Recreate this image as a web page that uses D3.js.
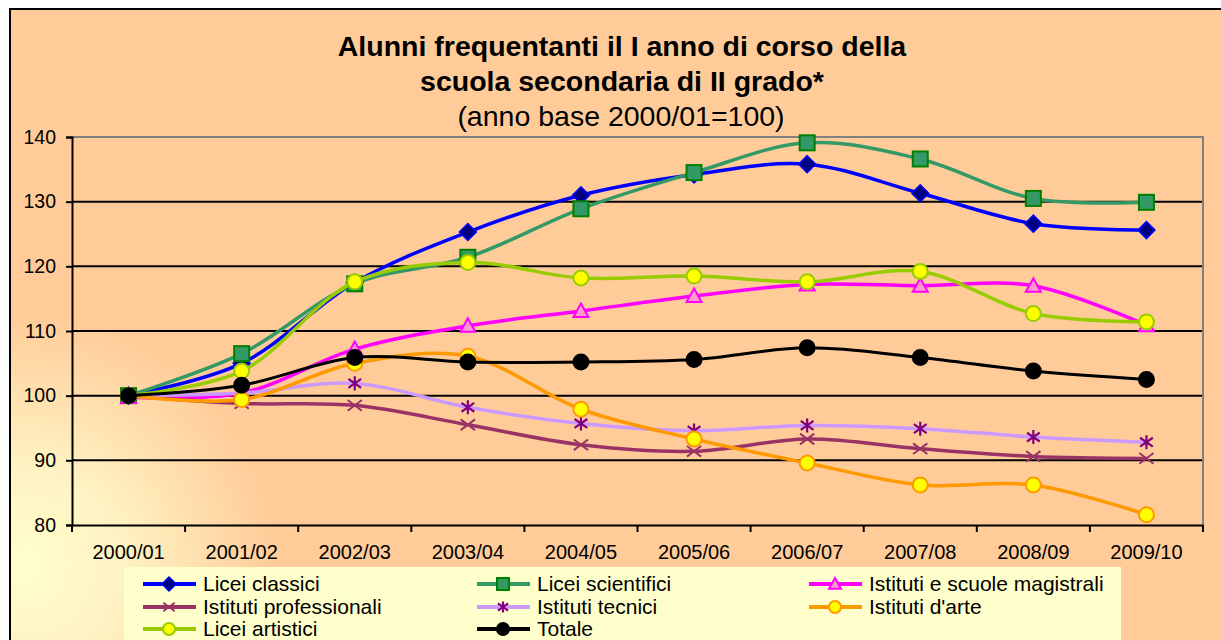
<!DOCTYPE html>
<html>
<head>
<meta charset="utf-8">
<script src="https://cdn.jsdelivr.net/npm/d3@7"></script>
<style>
  body { margin: 0; background: #ffffff; }
  svg { display: block; }
  text { font-family: "Liberation Sans", Arial, sans-serif; fill: #000; }
</style>
</head>
<body>
<svg id="chart" width="1221" height="640"></svg>
<script>
// Dati (anno base 2000/01 = 100)
var anni = ["2000/01", "2001/02", "2002/03", "2003/04", "2004/05", "2005/06", "2006/07", "2007/08", "2008/09", "2009/10"];
var liceiClassici    = [100, 105.0, 117.5, 125.3, 131.0, 134.2, 135.8, 131.3, 126.6, 125.6];
var liceiScientifici = [100, 106.5, 117.3, 121.4, 128.9, 134.5, 139.1, 136.6, 130.5, 129.9];
var magistrali       = [99.8, 100.4, 107.2, 110.8, 113.1, 115.4, 117.2, 117.0, 117.0, 110.9];
var professionali    = [100, 98.8, 98.5, 95.5, 92.4, 91.4, 93.3, 91.8, 90.6, 90.3];
var tecnici          = [100, 100.4, 101.9, 98.2, 95.7, 94.6, 95.4, 94.9, 93.6, 92.8];
var arte             = [100, 99.4, 105.0, 106.1, 97.9, 93.3, 89.6, 86.2, 86.2, 81.6];
var liceiArtistici   = [100, 103.8, 117.6, 120.6, 118.2, 118.5, 117.6, 119.2, 112.7, 111.4];
var totale           = [100, 101.6, 105.9, 105.2, 105.2, 105.6, 107.4, 105.9, 103.8, 102.5];
var yTicks = [80, 90, 100, 110, 120, 130, 140];

var serie = [
  {nome: "Licei classici", valori: liceiClassici, linea: "#0000ff", marker: "diamond", fill: "#000080", stroke: "#0000ff"},
  {nome: "Licei scientifici", valori: liceiScientifici, linea: "#339966", marker: "square", fill: "#339966", stroke: "#008000"},
  {nome: "Istituti e scuole magistrali", valori: magistrali, linea: "#ff00ff", marker: "triangle", fill: "#ff99cc", stroke: "#ff00ff"},
  {nome: "Istituti professionali", valori: professionali, linea: "#993366", marker: "x", fill: "none", stroke: "#993366"},
  {nome: "Istituti tecnici", valori: tecnici, linea: "#cc99ff", marker: "star", fill: "none", stroke: "#800080"},
  {nome: "Istituti d'arte", valori: arte, linea: "#ff9900", marker: "circle", fill: "#ffff00", stroke: "#ff9900"},
  {nome: "Licei artistici", valori: liceiArtistici, linea: "#99cc00", marker: "circle", fill: "#ffff00", stroke: "#99cc00"},
  {nome: "Totale", valori: totale, linea: "#000000", marker: "circle", fill: "#000000", stroke: "#000000"}
];

var svg = d3.select("#chart");
var plot = {left: 72, right: 1203, top: 137, bottom: 525};

// Sfondo con sfumatura in basso a sinistra
var defs = svg.append("defs");
var grad = defs.append("radialGradient").attr("id", "sfondo")
    .attr("gradientUnits", "userSpaceOnUse")
    .attr("cx", 25).attr("cy", 565).attr("r", 250);
grad.append("stop").attr("offset", "0").attr("stop-color", "#ffffcc");
grad.append("stop").attr("offset", "0.4").attr("stop-color", "#fff2c2");
grad.append("stop").attr("offset", "1").attr("stop-color", "#ffcc99");

svg.append("rect").attr("x", 10).attr("y", 9).attr("width", 1240).attr("height", 660)
    .attr("fill", "url(#sfondo)").attr("stroke", "#000").attr("stroke-width", 2);

// Scale
var x = d3.scaleBand().domain(anni).range([plot.left, plot.right]);
var y = d3.scaleLinear().domain([80, 140]).range([plot.bottom, plot.top]);
function cx(i) { return x(anni[i]) + x.bandwidth() / 2; }

// Titolo
var titolo = svg.append("text").attr("text-anchor", "middle").attr("font-size", 28.5);
titolo.append("tspan").attr("x", 622).attr("y", 56).attr("font-weight", "bold").text("Alunni frequentanti il I anno di corso della");
titolo.append("tspan").attr("x", 622).attr("y", 91).attr("font-weight", "bold").text("scuola secondaria di II grado*");
titolo.append("tspan").attr("x", 621).attr("y", 126).text("(anno base 2000/01=100)");

// Griglia
svg.append("g").selectAll("line").data(yTicks.filter(function (d) { return d > 80 && d < 140; }))
  .join("line")
    .attr("x1", plot.left).attr("x2", plot.right)
    .attr("y1", function (d) { return y(d); }).attr("y2", function (d) { return y(d); })
    .attr("stroke", "#000").attr("stroke-width", 2);

// Bordo dell'area del grafico (grigio in alto e a destra)
svg.append("path")
    .attr("d", "M" + plot.left + "," + y(140) + "H" + plot.right + "V" + plot.bottom)
    .attr("fill", "none").attr("stroke", "#808080").attr("stroke-width", 2);

// Assi
var assey = d3.axisLeft(y).tickValues(yTicks).tickSize(6).tickPadding(8);
var gy = svg.append("g").attr("transform", "translate(" + plot.left + ",0)").call(assey);
gy.select(".domain").attr("stroke", "#000").attr("stroke-width", 2);
gy.selectAll(".tick line").attr("stroke", "#000").attr("stroke-width", 2);
gy.selectAll("text").attr("font-size", 19.5).attr("font-family", "Liberation Sans, Arial, sans-serif").attr("fill", "#000").attr("dx", -2);

var assex = d3.axisBottom(x).tickSize(0).tickPadding(20);
var gx = svg.append("g").attr("transform", "translate(0," + plot.bottom + ")").call(assex);
gx.select(".domain").attr("stroke", "#000").attr("stroke-width", 2);
gx.selectAll("text").attr("font-size", 20).attr("font-family", "Liberation Sans, Arial, sans-serif").attr("fill", "#000");
// tacche tra le categorie
gx.selectAll(".sep").data(d3.range(anni.length + 1)).join("line").attr("class", "sep")
    .attr("x1", function (i) { return plot.left + i * x.bandwidth(); })
    .attr("x2", function (i) { return plot.left + i * x.bandwidth(); })
    .attr("y1", 0).attr("y2", 7).attr("stroke", "#000").attr("stroke-width", 2);

// Marker
function disegnaMarker(g, s, px, py, k) {
  var r = 7.5 * k;
  if (s.marker === "diamond") {
    g.append("path").attr("d", "M" + px + "," + (py - r - 1) + "L" + (px + r + 1) + "," + py + "L" + px + "," + (py + r + 1) + "L" + (px - r - 1) + "," + py + "Z")
      .attr("fill", s.fill).attr("stroke", s.stroke).attr("stroke-width", 1.5);
  } else if (s.marker === "square") {
    g.append("rect").attr("x", px - r).attr("y", py - r).attr("width", 2 * r).attr("height", 2 * r)
      .attr("fill", s.fill).attr("stroke", s.stroke).attr("stroke-width", 2);
  } else if (s.marker === "triangle") {
    g.append("path").attr("d", "M" + px + "," + (py - r) + "L" + (px + r) + "," + (py + r * 0.8) + "L" + (px - r) + "," + (py + r * 0.8) + "Z")
      .attr("fill", s.fill).attr("stroke", s.stroke).attr("stroke-width", 2);
  } else if (s.marker === "x") {
    var a = r * 0.95;
    g.append("path").attr("d", "M" + (px - a) + "," + (py - a * 0.75) + "L" + (px + a) + "," + (py + a * 0.75) + "M" + (px - a) + "," + (py + a * 0.75) + "L" + (px + a) + "," + (py - a * 0.75))
      .attr("stroke", s.stroke).attr("stroke-width", 2).attr("fill", "none");
  } else if (s.marker === "star") {
    var b = r * 0.85;
    g.append("path").attr("d", "M" + (px - b) + "," + (py - b * 0.7) + "L" + (px + b) + "," + (py + b * 0.7) + "M" + (px - b) + "," + (py + b * 0.7) + "L" + (px + b) + "," + (py - b * 0.7) + "M" + px + "," + (py - b * 1.1) + "L" + px + "," + (py + b * 1.1))
      .attr("stroke", s.stroke).attr("stroke-width", 2.2).attr("fill", "none");
  } else {
    g.append("circle").attr("cx", px).attr("cy", py).attr("r", r)
      .attr("fill", s.fill).attr("stroke", s.stroke).attr("stroke-width", 2);
  }
}

// Linee smussate + marker, una serie alla volta
var linea = d3.line()
    .x(function (d, i) { return cx(i); })
    .y(function (d) { return y(d); })
    .curve(d3.curveCatmullRom.alpha(0.5));

serie.forEach(function (s) {
  var g = svg.append("g");
  g.append("path").attr("d", linea(s.valori)).attr("fill", "none")
    .attr("stroke", s.linea).attr("stroke-width", s.nome === "Totale" ? 3 : 3.5);
  s.valori.forEach(function (v, i) { disegnaMarker(g, s, cx(i), y(v), 1); });
});

// Legenda
svg.append("rect").attr("x", 124).attr("y", 567).attr("width", 997).attr("height", 80).attr("fill", "#ffffcc");
var colonne = [143, 477, 809];
var righe = [584, 607, 629];
serie.forEach(function (s, i) {
  var lx = colonne[i % 3], ly = righe[Math.floor(i / 3)];
  var g = svg.append("g");
  g.append("line").attr("x1", lx).attr("x2", lx + 53).attr("y1", ly).attr("y2", ly)
    .attr("stroke", s.linea).attr("stroke-width", 4);
  disegnaMarker(g, s, lx + 26, ly, 0.8);
  g.append("text").attr("x", lx + 60).attr("y", ly + 7).attr("font-size", 21).text(s.nome);
});
</script>
</body>
</html>
